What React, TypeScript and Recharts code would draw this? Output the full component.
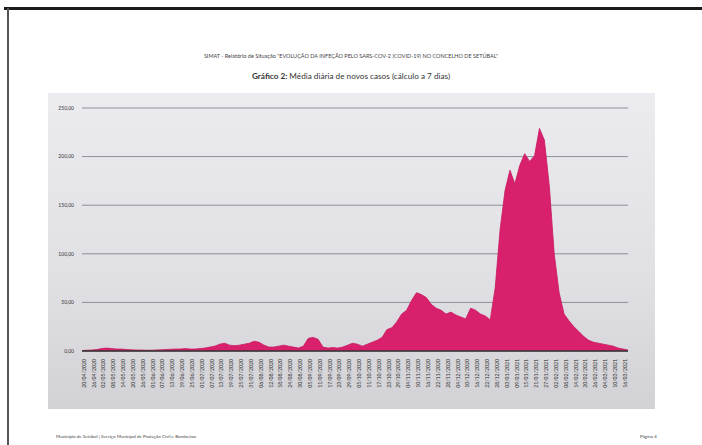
import React from "react";
import { AreaChart, Area, XAxis, YAxis, CartesianGrid } from "recharts";

const START_DATE = "2020-04-20";
const STEP_DAYS = 3;

const mediaDiaria: number[] = [
  0.5, 0.8, 1, 1.5, 2.5, 3, 2.5, 2, 2, 1.5,
  1.2, 1, 1, 0.8, 0.8, 1, 1.2, 1.5, 1.8, 2,
  2, 2.5, 2, 2, 2.5, 3, 4, 5, 7, 8,
  6, 5.5, 6, 7, 8, 10, 9, 6, 4, 4,
  5, 6, 5, 4, 3, 5, 13, 14, 12, 4,
  3, 3.5, 3, 4, 6, 8, 7, 5, 7, 9,
  11, 14, 22, 24, 30, 38, 42, 52, 60, 58,
  55, 48, 44, 42, 38, 40, 37, 35, 33, 44,
  42, 38, 36, 32, 65, 125, 165, 186, 172, 191,
  203, 195, 201, 229, 217, 170, 100, 60, 38, 31,
  25, 20, 15, 11, 9, 8, 7, 6, 5, 3,
  2, 1,
];

const pad = (n: number) => (n < 10 ? "0" + n : "" + n);
const datas: string[] = mediaDiaria.map((_, i) => {
  const d = new Date(START_DATE + "T00:00:00Z");
  d.setUTCDate(d.getUTCDate() + i * STEP_DAYS);
  return `${pad(d.getUTCDate())}/${pad(d.getUTCMonth() + 1)}/${d.getUTCFullYear()}`;
});

const yTicks = [0, 50, 100, 150, 200, 250];

const headerText =
  "SIMAT - Relatório de Situação \"EVOLUÇÃO DA INFEÇÃO PELO SARS-COV-2 (COVID-19) NO CONCELHO DE SETÚBAL\"";
const titleBold = "Gráfico 2:";
const titleRest = " Média diária de novos casos (cálculo a 7 dias)";
const footerLeft = "Município de Setúbal | Serviço Municipal de Proteção Civil e Bombeiros";
const footerRight = "Página 4";

const chartData = datas.map((d, i) => ({ data: d, valor: mediaDiaria[i] }));

export default function App() {
  return (
    <div
      style={{
        position: "absolute",
        left: 0,
        top: 0,
        width: 702,
        height: 445,
        background: "#ffffff",
        overflow: "hidden",
        fontFamily: "Lato, 'Open Sans', sans-serif",
      }}
    >
      <div style={{ position: "absolute", left: 4, top: 7, width: 698, height: 3, background: "#1a1a1a" }} />
      <div style={{ position: "absolute", left: 7, top: 8, width: 2, height: 437, background: "#555" }} />
      <div
        style={{
          position: "absolute",
          left: 0,
          width: 702,
          top: 53,
          textAlign: "center",
          fontSize: 5.5,
          color: "#444",
        }}
      >
        {headerText}
      </div>
      <div
        style={{
          position: "absolute",
          left: 0,
          width: 702,
          top: 71,
          textAlign: "center",
          fontSize: 8.2,
          color: "#333",
        }}
      >
        <b>{titleBold}</b>
        {titleRest}
      </div>
      <div
        style={{
          position: "absolute",
          left: 48,
          top: 93,
          width: 607,
          height: 316,
          background: "linear-gradient(to bottom, #ececf0 0%, #e0e0e4 60%, #d2d2d6 100%)",
        }}
      >
        <AreaChart
          width={607}
          height={316}
          data={chartData}
          margin={{ top: 15, right: 27, bottom: 8, left: 2 }}
        >
          <CartesianGrid vertical={false} stroke="#8e8e96" strokeWidth={1} />
          <XAxis
            dataKey="data"
            interval={1}
            angle={-90}
            textAnchor="end"
            height={50}
            tickLine={false}
            axisLine={{ stroke: "#333", strokeWidth: 1.5 }}
            tick={{ fontSize: 5.2, fill: "#333" }}
            tickMargin={2}
          />
          <YAxis
            width={32}
            domain={[0, 250]}
            ticks={yTicks}
            tickFormatter={(v: number) => v.toFixed(2).replace(".", ",")}
            tickLine={false}
            axisLine={false}
            tick={{ fontSize: 5, fill: "#333" }}
          />
          <Area
            type="linear"
            dataKey="valor"
            stroke="#c8185f"
            strokeWidth={0.8}
            fill="#d8206c"
            fillOpacity={1}
            isAnimationActive={false}
          />
        </AreaChart>
      </div>
      <div style={{ position: "absolute", left: 56, top: 434, fontSize: 4.5, color: "#444" }}>{footerLeft}</div>
      <div style={{ position: "absolute", left: 640, top: 434, fontSize: 4.5, color: "#444" }}>{footerRight}</div>
    </div>
  );
}
